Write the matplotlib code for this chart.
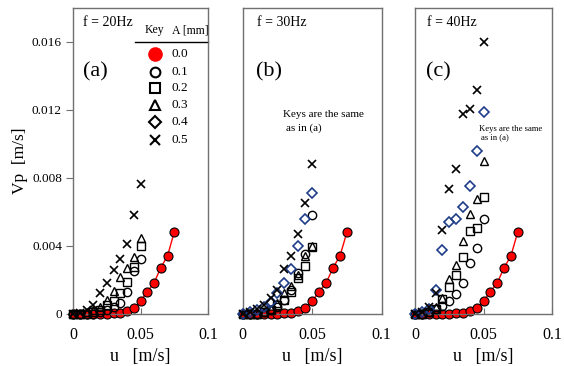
import matplotlib
matplotlib.use("Agg")
import matplotlib.pyplot as plt
import numpy as np

plt.rcParams['font.family'] = ['Liberation Serif', 'DejaVu Serif']

# ---- data ----
u_red = [0, 0.005, 0.01, 0.015, 0.02, 0.025, 0.03, 0.035, 0.04, 0.045, 0.05, 0.055, 0.06, 0.065, 0.07, 0.075]
vp_red = [0, 0, 0, 0, 0, 0, 0.00002, 0.00005, 0.00017, 0.00031, 0.00074, 0.0013, 0.0018, 0.0027, 0.0034, 0.0048]

u = [0, 0.005, 0.01, 0.015, 0.02, 0.025, 0.03, 0.035, 0.04, 0.045, 0.05]

# panel (a) f = 20Hz
a_A01 = [0, 0, 0, 0, 0.0001, 0.0002, 0.0004, 0.00061, 0.00128, 0.00248, 0.00321]
a_A02 = [0, 0, 0, 0.0001, 0.0002, 0.00051, 0.00076, 0.00124, 0.00189, 0.00274, 0.0040]
a_A03 = [0, 0, 0.0001, 0.0002, 0.0004, 0.0008, 0.00135, 0.00215, 0.00268, 0.00333, 0.00445]
a_A05 = [0, 0.00005, 0.0002, 0.00051, 0.0012, 0.00183, 0.00254, 0.00321, 0.00411, 0.00579, 0.00764]

# panel (b) f = 30Hz
b_A01 = [0, 0, 0, 0.0001, 0.0002, 0.0004, 0.0008, 0.0014, 0.0024, 0.0035, 0.0058]
b_A02 = [0, 0, 0, 0.0001, 0.0002, 0.0005, 0.0008, 0.0013, 0.0021, 0.0028, 0.0039]
b_A03 = [0, 0, 0, 0.0001, 0.0003, 0.0006, 0.0012, 0.0016, 0.0023, 0.0034, 0.0040]
b_A04 = [0, 0.0001, 0.0002, 0.0004, 0.0007, 0.0012, 0.0018, 0.0026, 0.0040, 0.0056, 0.0071]
b_A05 = [0, 0.0001, 0.0003, 0.0005, 0.0009, 0.0014, 0.0026, 0.0034, 0.0047, 0.0065, 0.0088]

# panel (c) f = 40Hz
c_A01 = [0, 0, 0.0001, 0.0003, 0.00045, 0.00074, 0.00116, 0.00183, 0.00297, 0.00386, 0.00557]
c_A02 = [0, 0, 0.0001, 0.0003, 0.00085, 0.00155, 0.00228, 0.00333, 0.00484, 0.00504, 0.00687]
c_A03 = [0, 0, 0.0001, 0.0004, 0.0009, 0.00203, 0.00287, 0.00425, 0.00589, 0.00676, 0.00898]
c_A04 = [0, 0.0001, 0.0003, 0.0014, 0.00372, 0.00541, 0.00557, 0.00628, 0.00754, 0.00957, 0.01187]
c_A05 = [0, 0.0001, 0.0004, 0.00124, 0.00494, 0.00735, 0.00849, 0.01174, 0.01203, 0.01317, 0.016]

legend_vals = ['0.0', '0.1', '0.2', '0.3', '0.4', '0.5']
freqs = ['f = 20Hz', 'f = 30Hz', 'f = 40Hz']
panel_tags = ['(a)', '(b)', '(c)']

yticks = [0, 0.004, 0.008, 0.012, 0.016]
ytick_labels = ['0', '0.004', '0.008', '0.012', '0.016']
xticks = [0, 0.05, 0.1]
xtick_labels = ['0', '0.05', '0.1']

SPINE = '#707070'
DIAM = '#1F3C88'

fig = plt.figure(figsize=(5.64, 3.66), dpi=100)
bottom = 1 - 313.6 / 366
top = 1 - 8 / 366
lefts = [73 / 564, 242.7 / 564, 415 / 564]
widths = [135 / 564, 139 / 564, 137 / 564]
axes = [fig.add_axes([l, bottom, w, top - bottom]) for l, w in zip(lefts, widths)]

ms = 6
mk = dict(linestyle='none', markerfacecolor='none', markersize=ms, clip_on=False, zorder=3)

def style(ax, show_y):
    ax.set_xlim(0, 0.1)
    ax.set_ylim(0, 0.018)
    for s in ax.spines.values():
        s.set_color(SPINE)
        s.set_linewidth(1.0)
    ax.set_xticks(xticks)
    ax.set_xticklabels(xtick_labels, fontsize=11.5)
    ax.tick_params(axis='x', direction='in', length=4, color=SPINE, pad=10)
    if show_y:
        ax.set_yticks(yticks)
        ax.set_yticklabels(ytick_labels, fontsize=9.5)
        ax.tick_params(axis='y', direction='out', length=5, color=SPINE, pad=3)
    else:
        ax.set_yticks([])
    ax.set_xlabel('u   [m/s]', fontsize=13, labelpad=3)

def red(ax):
    ax.plot(u_red, vp_red, color='red', lw=1.0, marker='o', markersize=ms + 0.5,
            markerfacecolor='red', markeredgecolor='black', markeredgewidth=0.8,
            clip_on=False, zorder=2)

# panel a
ax = axes[0]
red(ax)
ax.plot(u, a_A01, marker='o', markeredgecolor='black', markeredgewidth=1.0, **mk)
ax.plot(u, a_A02, marker='s', markeredgecolor='black', markeredgewidth=1.0, **mk)
ax.plot(u, a_A03, marker='^', markeredgecolor='black', markeredgewidth=1.0, **mk)
ax.plot(u, a_A05, marker='x', markeredgecolor='black', markeredgewidth=1.2, markersize=ms, linestyle='none', clip_on=False, zorder=3)
style(ax, True)
ax.set_ylabel('Vp  [m/s]', fontsize=12.5, labelpad=3)

# panel b
ax = axes[1]
red(ax)
ax.plot(u, b_A01, marker='o', markeredgecolor='black', markeredgewidth=1.0, **mk)
ax.plot(u, b_A02, marker='s', markeredgecolor='black', markeredgewidth=1.0, **mk)
ax.plot(u, b_A03, marker='^', markeredgecolor='black', markeredgewidth=1.0, **mk)
ax.plot(u, b_A04, marker='D', markeredgecolor=DIAM, markeredgewidth=1.2, markerfacecolor='none',
        markersize=ms - 1, linestyle='none', clip_on=False, zorder=3)
ax.plot(u, b_A05, marker='x', markeredgecolor='black', markeredgewidth=1.2, markersize=ms, linestyle='none', clip_on=False, zorder=3)
style(ax, False)

# panel c
ax = axes[2]
red(ax)
ax.plot(u, c_A01, marker='o', markeredgecolor='black', markeredgewidth=1.0, **mk)
ax.plot(u, c_A02, marker='s', markeredgecolor='black', markeredgewidth=1.0, **mk)
ax.plot(u, c_A03, marker='^', markeredgecolor='black', markeredgewidth=1.0, **mk)
ax.plot(u, c_A04, marker='D', markeredgecolor=DIAM, markeredgewidth=1.2, markerfacecolor='none',
        markersize=ms - 1, linestyle='none', clip_on=False, zorder=3)
ax.plot(u, c_A05, marker='x', markeredgecolor='black', markeredgewidth=1.2, markersize=ms, linestyle='none', clip_on=False, zorder=3)
style(ax, False)

# annotations
fx = [0.074, 0.10, 0.085]
tx = [0.072, 0.096, 0.08]
for ax, f, t, x1, x2 in zip(axes, freqs, panel_tags, fx, tx):
    ax.text(x1, 0.951, f, transform=ax.transAxes, fontsize=10, va='center', ha='left')
    ax.text(x2, 0.79, t, transform=ax.transAxes, fontsize=16, va='center', ha='left')

axes[1].text(0.288, 0.65, 'Keys are the same', transform=axes[1].transAxes, fontsize=8, va='center')
axes[1].text(0.31, 0.607, 'as in (a)', transform=axes[1].transAxes, fontsize=8, va='center')
axes[2].text(0.467, 0.604, 'Keys are the same', transform=axes[2].transAxes, fontsize=6.2, va='center')
axes[2].text(0.48, 0.576, 'as in (a)', transform=axes[2].transAxes, fontsize=6.2, va='center')

# key table in panel (a)
ax = axes[0]
ax.text(0.533, 0.928, 'Key', transform=ax.transAxes, fontsize=8.5, va='center')
ax.text(0.733, 0.928, 'A [mm]', transform=ax.transAxes, fontsize=8.5, va='center')
ax.plot([0.46, 1.0], [0.89, 0.89], transform=ax.transAxes, color='black', lw=1.0, clip_on=False)
rows_y = [0.848, 0.792, 0.737, 0.683, 0.626, 0.569]
key_markers = ['o', 'o', 's', '^', 'D', 'x']
for i, (yy, m, lab) in enumerate(zip(rows_y, key_markers, legend_vals)):
    if i == 0:
        ax.plot([0.607], [yy], transform=ax.transAxes, marker='o', markersize=9.5,
                markerfacecolor='red', markeredgecolor='red', linestyle='none', clip_on=False)
    else:
        size = 7.0 if m != 'D' else 6.0
        ax.plot([0.607], [yy], transform=ax.transAxes, marker=m, markersize=size,
                markerfacecolor='none', markeredgecolor='black', markeredgewidth=1.5,
                linestyle='none', clip_on=False)
    ax.text(0.733, yy, lab, transform=ax.transAxes, fontsize=9.5, va='center')

fig.savefig('out.png', dpi=100)
